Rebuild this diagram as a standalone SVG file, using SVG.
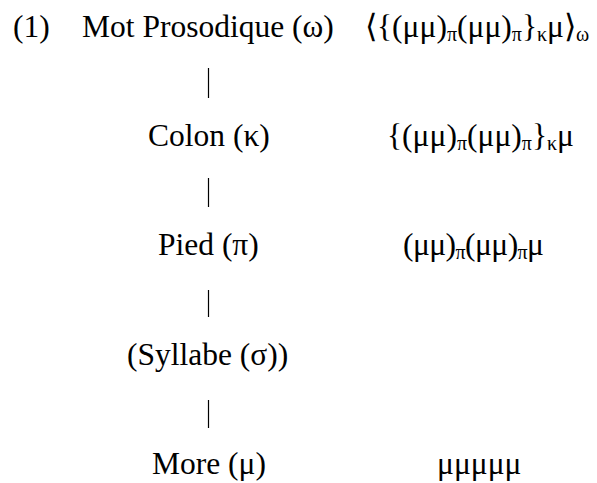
<svg xmlns="http://www.w3.org/2000/svg" width="597" height="483" viewBox="0 0 597 483">
<style>
text { font-family: "Liberation Serif", "Times New Roman", serif; font-size: 31.5px; fill: #000; }
.sub { font-size: 20px; }
.bar { stroke: #000; stroke-width: 1.2; }
</style>
<rect width="597" height="483" fill="#fff"/>
<g id="label"><text x="13" y="37">(1)</text></g>
<g id="node-omega"><text x="82" y="37">Mot Prosodique (ω)</text></g>
<g id="formula-omega"><text x="365" y="37">⟨{(μμ)<tspan class="sub" dy="4">π</tspan><tspan dy="-4">(μμ)</tspan><tspan class="sub" dy="4">π</tspan><tspan dy="-4">}</tspan><tspan class="sub" dy="4">κ</tspan><tspan dy="-4">μ⟩</tspan><tspan class="sub" dy="4">ω</tspan></text></g>
<g id="node-kappa"><text x="148" y="146">Colon (κ)</text></g>
<g id="formula-kappa"><text x="387" y="146">{(μμ)<tspan class="sub" dy="4">π</tspan><tspan dy="-4">(μμ)</tspan><tspan class="sub" dy="4">π</tspan><tspan dy="-4">}</tspan><tspan class="sub" dy="4">κ</tspan><tspan dy="-4">μ</tspan></text></g>
<g id="node-pi"><text x="158" y="255">Pied (π)</text></g>
<g id="formula-pi"><text x="403" y="255" textLength="141" lengthAdjust="spacing">(μμ)<tspan class="sub" dy="4">π</tspan><tspan dy="-4">(μμ)</tspan><tspan class="sub" dy="4">π</tspan><tspan dy="-4">μ</tspan></text></g>
<g id="node-sigma"><text x="127" y="365">(Syllabe (σ))</text></g>
<g id="node-mu"><text x="152" y="474">More (μ)</text></g>
<g id="formula-mu"><text x="437" y="474">μμμμμ</text></g>
<g id="connectors">
<line class="bar" x1="208.5" y1="68" x2="208.5" y2="98"/>
<line class="bar" x1="208.5" y1="178" x2="208.5" y2="207"/>
<line class="bar" x1="208.5" y1="290" x2="208.5" y2="317"/>
<line class="bar" x1="208.5" y1="400" x2="208.5" y2="428"/>
</g>
</svg>
